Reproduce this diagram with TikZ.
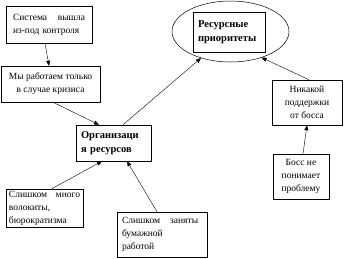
\documentclass[tikz,border=0pt]{standalone}
\usepackage{fontspec}
\setmainfont{Liberation Serif}
\usetikzlibrary{arrows.meta, shapes.geometric}
\tikzset{
  txtbox/.style={draw, line width=0.5pt, inner xsep=5pt, inner ysep=2pt,
                 font=\fontsize{9.5}{13}\selectfont},
  lbox/.style  ={txtbox, align=left},
  cbox/.style  ={txtbox, align=center},
  keybox/.style={draw, line width=0.5pt, inner xsep=5pt, inner ysep=2pt,
                 align=left, font=\fontsize{10.5}{13.5}\selectfont\bfseries},
  goal/.style  ={draw, ellipse, line width=0.5pt, inner sep=0pt},
  arr/.style   ={-{Triangle[length=5pt, width=4pt]}, line width=0.4pt},
}
\begin{document}
\begin{tikzpicture}[x=1pt, y=-1pt]
  \useasboundingbox (0,0) rectangle (344,258);
  % goal in the ellipse
  \node[goal, minimum width=117pt, minimum height=61pt] (ell) at (230.5,31.5) {};
  \node[keybox, minimum width=72pt, minimum height=40pt, text width=62pt]
    (prio) at (229,32) {Ресурсные\\приоритеты};
  % central box
  \node[keybox, minimum width=75pt, minimum height=36pt, text width=65pt]
    (org) at (113.5,143) {Организаци\\я ресурсов};
  % causes, left side
  \node[lbox, inner xsep=4pt, minimum width=86pt, minimum height=37pt, text width=72pt]
    (outctl) at (49,24.5) {Система\hfill вышла\\из-под контроля};
  \node[cbox, minimum width=99pt, minimum height=36pt]
    (crisis) at (50.5,84) {Мы работаем только\\в случае кризиса};
  \node[lbox, inner xsep=3pt, minimum width=77pt, minimum height=36pt, text width=71pt]
    (redtape) at (44.5,208) {Слишком\hfill много\\волокиты,\\бюрократизма};
  \node[lbox, inner xsep=4pt, minimum width=90pt, minimum height=45pt, text width=80pt]
    (paper) at (162,234.5) {Слишком\hspace{10pt}заняты\\бумажной\\работой};
  % causes, right side
  \node[cbox, minimum width=70pt, minimum height=45pt]
    (nosup) at (307,102.5) {Никакой\\поддержки\\от босса};
  \node[cbox, minimum width=56pt, minimum height=45pt]
    (boss) at (301,176.5) {Босс не\\понимает\\проблему};
  % links
  \draw[arr] ([xshift=-4pt]outctl.south) -- ([xshift=-1.5pt]crisis.north);
  \draw[arr] ([xshift=2.5pt]crisis.south) -- ([xshift=-14.5pt]org.north);
  \draw[arr] ([xshift=9.5pt]org.north) -- (ell.222);
  \draw[arr] ([xshift=2pt]nosup.north) -- (ell.320);
  \draw[arr] ([xshift=2pt]boss.north) -- (nosup.south);
  \draw[arr] ([xshift=7.5pt]redtape.north) -- ([xshift=-11.5pt]org.south);
  \draw[arr] ([xshift=-5pt]paper.north) -- ([xshift=13.5pt]org.south);
\end{tikzpicture}
\end{document}
